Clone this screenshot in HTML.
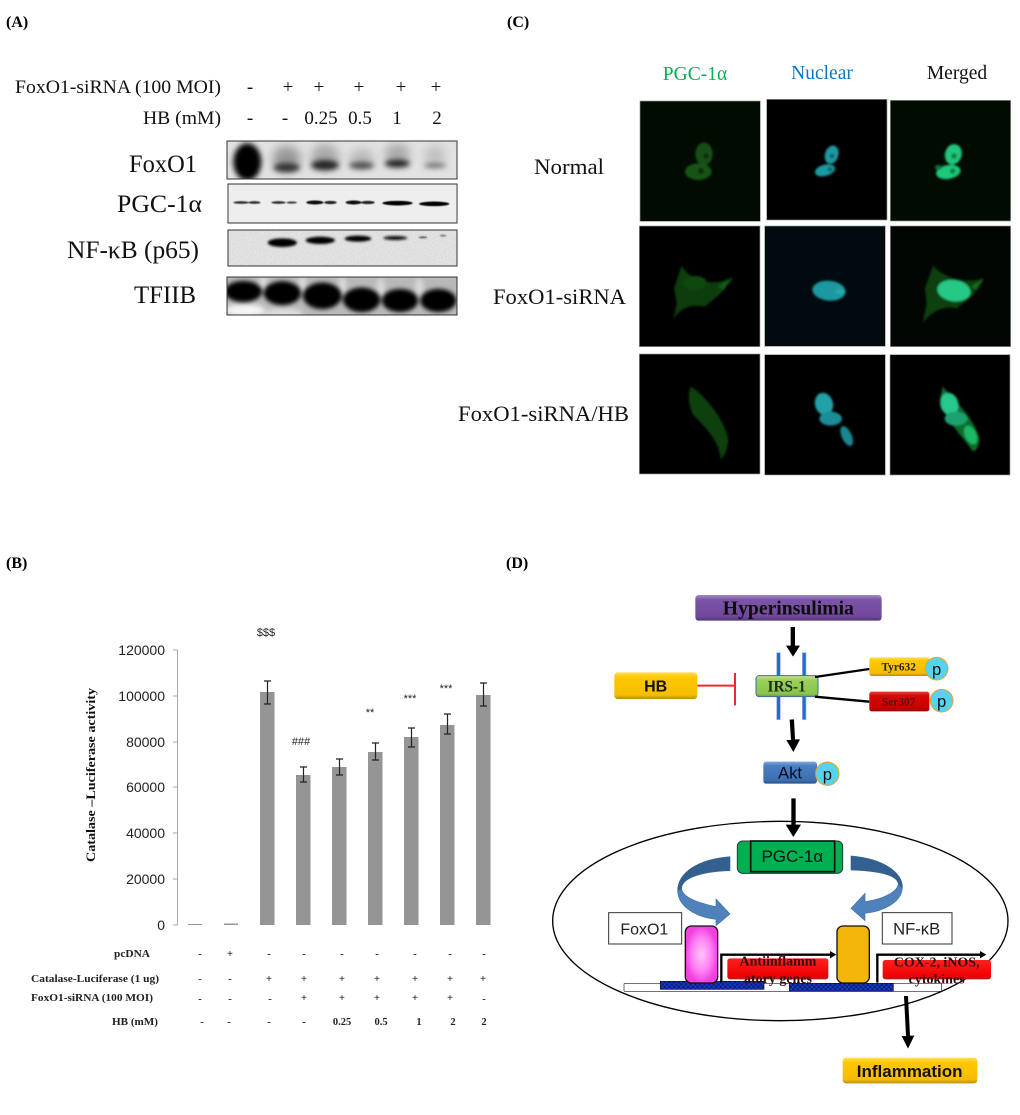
<!DOCTYPE html>
<html><head><meta charset="utf-8"><style>
html,body{margin:0;padding:0;background:#fff}
svg{display:block}
.s{font-family:"Liberation Serif",serif}
.a{font-family:"Liberation Sans",sans-serif}
.b{font-weight:bold}
</style></head><body>
<svg width="1020" height="1115" viewBox="0 0 1020 1115" xmlns="http://www.w3.org/2000/svg">
<defs>
<filter id="b2" x="-50%" y="-100%" width="200%" height="300%"><feGaussianBlur stdDeviation="2"/></filter>
<filter id="b3" x="-50%" y="-50%" width="200%" height="200%"><feGaussianBlur stdDeviation="3"/></filter>
<filter id="b4" x="-50%" y="-100%" width="200%" height="300%"><feGaussianBlur stdDeviation="4"/></filter>
<filter id="b6" x="-50%" y="-100%" width="200%" height="300%"><feGaussianBlur stdDeviation="6"/></filter>
<filter id="b8" x="-50%" y="-100%" width="200%" height="300%"><feGaussianBlur stdDeviation="8"/></filter>
<filter id="b14" x="-50%" y="-100%" width="200%" height="300%"><feGaussianBlur stdDeviation="14"/></filter>
<filter id="noise" x="0" y="0" width="100%" height="100%"><feTurbulence type="fractalNoise" baseFrequency="0.5" numOctaves="2" seed="4"/><feColorMatrix values="0 0 0 0 0.3 0 0 0 0 0.3 0 0 0 0 0.3 1.4 0 0 0 -0.45"/></filter>
<linearGradient id="gy" x1="0" y1="0" x2="0" y2="1"><stop offset="0" stop-color="#ffdf5a"/><stop offset=".18" stop-color="#ffc800"/><stop offset=".85" stop-color="#f5bd00"/><stop offset="1" stop-color="#b98c10"/></linearGradient>
<linearGradient id="gr" x1="0" y1="0" x2="0" y2="1"><stop offset="0" stop-color="#e84040"/><stop offset=".2" stop-color="#d80808"/><stop offset=".85" stop-color="#c80000"/><stop offset="1" stop-color="#8a1010"/></linearGradient>
<linearGradient id="gr2" x1="0" y1="0" x2="0" y2="1"><stop offset="0" stop-color="#ff2020"/><stop offset=".85" stop-color="#f00000"/><stop offset="1" stop-color="#b02020"/></linearGradient>
<linearGradient id="gp" x1="0" y1="0" x2="0" y2="1"><stop offset="0" stop-color="#a58ac6"/><stop offset=".18" stop-color="#7b55a8"/><stop offset=".85" stop-color="#70489c"/><stop offset="1" stop-color="#4e3570"/></linearGradient>
<linearGradient id="gb" x1="0" y1="0" x2="0" y2="1"><stop offset="0" stop-color="#7eaadb"/><stop offset=".18" stop-color="#4a80c4"/><stop offset=".85" stop-color="#3d6fb0"/><stop offset="1" stop-color="#2a4f80"/></linearGradient>
<linearGradient id="gg" x1="0" y1="0" x2="0" y2="1"><stop offset="0" stop-color="#c5e59a"/><stop offset=".2" stop-color="#9ad05c"/><stop offset=".85" stop-color="#8cc44e"/><stop offset="1" stop-color="#6f9a40"/></linearGradient>
<radialGradient id="pink"><stop offset="0" stop-color="#ffc4fa"/><stop offset=".6" stop-color="#ff80f4"/><stop offset="1" stop-color="#f040e0"/></radialGradient>
<pattern id="dots" width="14" height="14" patternUnits="userSpaceOnUse"><rect width="14" height="14" fill="#1438c8"/><rect width="7" height="7" fill="#0c1f78"/><rect x="7" y="7" width="7" height="7" fill="#0c1f78"/></pattern>
</defs>
<rect width="1020" height="1115" fill="#fff"/>

<!-- panel letters -->
<g class="s b" font-size="16" fill="#000">
<text x="6" y="27">(A)</text><text x="507" y="27">(C)</text>
<text x="6" y="568">(B)</text><text x="506" y="568">(D)</text>
</g>

<!-- A -->
<g class="s" fill="#111" font-size="19">
<text x="15" y="93" textLength="206" lengthAdjust="spacingAndGlyphs">FoxO1-siRNA (100 MOI)</text>
<text x="143" y="124" textLength="78" lengthAdjust="spacingAndGlyphs">HB (mM)</text>
<g text-anchor="middle">
<text x="250" y="93">-</text><text x="288" y="93">+</text><text x="319" y="93">+</text><text x="359" y="93">+</text><text x="401" y="93">+</text><text x="436" y="93">+</text>
<text x="250" y="124">-</text><text x="285" y="124">-</text><text x="321" y="124">0.25</text><text x="360" y="124">0.5</text><text x="397" y="124">1</text><text x="437" y="124">2</text>
</g>
</g>
<g class="s" fill="#111" font-size="25">
<text x="129" y="172" textLength="68" lengthAdjust="spacingAndGlyphs">FoxO1</text>
<text x="117" y="212" textLength="85" lengthAdjust="spacingAndGlyphs">PGC-1α</text>
<text x="67" y="258" textLength="132" lengthAdjust="spacingAndGlyphs">NF-κB (p65)</text>
<text x="134" y="303" textLength="62" lengthAdjust="spacingAndGlyphs">TFIIB</text>
</g>
<svg x="227" y="141" width="230" height="38" viewBox="681 243 690 113"><rect x="681" y="243" width="690" height="113" fill="#e2e2e2"/>
<g filter="url(#b14)"><ellipse cx="860" cy="295" rx="42" ry="38" fill="#999"/><ellipse cx="975" cy="290" rx="42" ry="38" fill="#a8a8a8"/><ellipse cx="1192" cy="280" rx="38" ry="30" fill="#aaa"/><ellipse cx="1305" cy="285" rx="32" ry="28" fill="#c0c0c0"/><ellipse cx="1085" cy="295" rx="36" ry="28" fill="#b8b8b8"/></g>
<g filter="url(#b8)"><ellipse cx="742" cy="305" rx="42" ry="56" fill="#000"/><ellipse cx="860" cy="322" rx="40" ry="14" fill="#333"/><ellipse cx="975" cy="315" rx="42" ry="15" fill="#222"/><ellipse cx="1085" cy="316" rx="38" ry="10" fill="#444"/><ellipse cx="1192" cy="310" rx="38" ry="12" fill="#222"/><ellipse cx="1305" cy="316" rx="34" ry="7" fill="#666"/></g></svg>
<svg x="228" y="184" width="229" height="39" viewBox="685 372 687 118"><rect x="685" y="372" width="687" height="118" fill="#eee"/>
<g filter="url(#b2)"><ellipse cx="722" cy="428" rx="24" ry="4" fill="#333"/><ellipse cx="762" cy="428" rx="19" ry="4" fill="#333"/><ellipse cx="835" cy="428" rx="22" ry="4" fill="#333"/><ellipse cx="875" cy="428" rx="16" ry="3.5" fill="#444"/><ellipse cx="945" cy="428" rx="26" ry="6" fill="#111"/><ellipse cx="992" cy="428" rx="19" ry="5" fill="#222"/><ellipse cx="1062" cy="428" rx="24" ry="6" fill="#111"/><ellipse cx="1105" cy="428" rx="21" ry="5" fill="#222"/><ellipse cx="1195" cy="430" rx="46" ry="7" fill="#000"/><ellipse cx="1306" cy="432" rx="46" ry="7" fill="#000"/></g></svg>
<svg x="228" y="230" width="229" height="36" viewBox="685 510 687 108"><rect x="685" y="510" width="687" height="108" fill="#ececec"/><rect x="685" y="510" width="687" height="108" filter="url(#noise)" opacity=".55"/>
<g filter="url(#b4)"><ellipse cx="848" cy="548" rx="44" ry="13" fill="#000"/><ellipse cx="962" cy="541" rx="44" ry="11" fill="#000"/><ellipse cx="1075" cy="536" rx="40" ry="9" fill="#000"/><ellipse cx="1187" cy="534" rx="36" ry="6" fill="#111"/></g><g filter="url(#b2)"><ellipse cx="1270" cy="532" rx="13" ry="3" fill="#555"/><ellipse cx="1330" cy="527" rx="10" ry="3" fill="#777"/></g></svg>
<svg x="227" y="277" width="230" height="38" viewBox="681 652 690 113"><rect x="681" y="652" width="690" height="113" fill="#b8b8b8"/>
<g filter="url(#b8)"><ellipse cx="735" cy="752" rx="60" ry="20" fill="#f4f4f4"/><ellipse cx="850" cy="762" rx="60" ry="18" fill="#ddd"/><ellipse cx="1090" cy="770" rx="170" ry="8" fill="#bbb"/><ellipse cx="790" cy="670" rx="12" ry="30" fill="#ddd"/><ellipse cx="907" cy="675" rx="12" ry="30" fill="#ddd"/><ellipse cx="1027" cy="680" rx="12" ry="30" fill="#ddd"/><ellipse cx="1142" cy="685" rx="12" ry="30" fill="#ddd"/><ellipse cx="1258" cy="685" rx="12" ry="30" fill="#ddd"/></g>
<g filter="url(#b6)" fill="#000"><ellipse cx="730" cy="695" rx="56" ry="32"/><ellipse cx="847" cy="700" rx="56" ry="36"/><ellipse cx="967" cy="708" rx="58" ry="40"/><ellipse cx="1085" cy="720" rx="56" ry="37"/><ellipse cx="1200" cy="722" rx="54" ry="35"/><ellipse cx="1315" cy="722" rx="54" ry="35"/></g></svg>
<g fill="none" stroke="#333" stroke-width="1">
<rect x="227" y="141" width="230" height="38"/><rect x="228" y="184" width="229" height="39"/><rect x="228" y="230" width="229" height="36"/><rect x="227" y="277" width="230" height="38"/>
</g>

<!-- C labels -->
<g class="s" font-size="19.5" text-anchor="middle">
<text x="695" y="80" fill="#00b050">PGC-1α</text>
<text x="822" y="79" fill="#0a78c0">Nuclear</text>
<text x="957" y="79" fill="#111">Merged</text>
</g>
<g class="s" fill="#111" font-size="22">
<text x="534" y="174" textLength="70" lengthAdjust="spacingAndGlyphs">Normal</text>
<text x="493" y="304" textLength="133" lengthAdjust="spacingAndGlyphs">FoxO1-siRNA</text>
<text x="458" y="421" textLength="171" lengthAdjust="spacingAndGlyphs">FoxO1-siRNA/HB</text>
</g>

<!-- C micrographs (zoom coords) -->
<g transform="translate(630,90) scale(.33333)">
<g stroke="#999" stroke-width="2">
<rect x="30" y="33" width="361" height="361" fill="#020b02"/>
<rect x="410" y="28" width="361" height="362" fill="#000"/>
<rect x="781" y="31" width="361" height="362" fill="#020b02"/>
<rect x="28" y="408" width="362" height="362" fill="#000"/>
<rect x="404" y="408" width="362" height="361" fill="#010a0e"/>
<rect x="781" y="408" width="361" height="362" fill="#010603"/>
<rect x="28" y="792" width="362" height="360" fill="#000"/>
<rect x="404" y="794" width="362" height="361" fill="#000"/>
<rect x="780" y="794" width="360" height="361" fill="#000"/>
</g>
<g filter="url(#b3)">
<!-- row 1 -->
<ellipse cx="222" cy="192" rx="26" ry="34" fill="#145014"/><ellipse cx="205" cy="245" rx="40" ry="25" fill="#155515"/><circle cx="228" cy="198" r="8" fill="#0a2c0a"/><circle cx="213" cy="243" r="9" fill="#0a2c0a"/>
<ellipse cx="605" cy="194" rx="20" ry="28" transform="rotate(18 605 194)" fill="#1f9aa2"/><ellipse cx="585" cy="241" rx="31" ry="17" transform="rotate(-15 585 241)" fill="#1f9aa2"/><circle cx="606" cy="198" r="7" fill="#0e5f66"/><circle cx="600" cy="238" r="7" fill="#0e5f66"/>
<ellipse cx="970" cy="193" rx="25" ry="31" transform="rotate(15 970 193)" fill="#24c47c"/><ellipse cx="955" cy="246" rx="37" ry="21" transform="rotate(-10 955 246)" fill="#1fc878"/><circle cx="972" cy="198" r="8" fill="#0f7a48"/><circle cx="968" cy="243" r="8" fill="#0f7a48"/><ellipse cx="925" cy="232" rx="11" ry="7" fill="#146a3a"/>
<!-- row 2 -->
<path d="M155,525C165,555 220,585 270,575L312,562L270,612L225,650C190,642 150,650 130,690L140,640L132,595Z" fill="#0c3c0c"/><path d="M262,590L305,563L282,600Z" fill="#145a14"/><ellipse cx="195" cy="578" rx="35" ry="20" fill="#0f480f"/>
<ellipse cx="597" cy="602" rx="50" ry="30" transform="rotate(5 597 602)" fill="#1f98a0"/><ellipse cx="630" cy="605" rx="14" ry="8" fill="#2aa8b0"/>
<path d="M910,525C925,555 1000,585 1060,565L1030,615L980,655C945,645 900,665 878,700L890,640L885,595Z" fill="#0d400f"/><ellipse cx="972" cy="602" rx="50" ry="32" transform="rotate(8 972 602)" fill="#28c884"/><path d="M1022,590L1062,565L1040,600Z" fill="#156a1a"/>
<!-- row 3 -->
<path d="M182,890C225,915 285,990 295,1050C292,1080 285,1095 272,1110C270,1060 235,1020 190,975C175,945 172,915 182,890Z" fill="#0c400e"/>
<ellipse cx="582" cy="942" rx="27" ry="34" transform="rotate(-15 582 942)" fill="#22a0a8"/><ellipse cx="602" cy="986" rx="34" ry="21" fill="#1c8c96"/><ellipse cx="650" cy="1038" rx="15" ry="32" transform="rotate(-25 650 1038)" fill="#1c8690"/>
<path d="M938,890C975,930 1035,990 1048,1045C1046,1075 1035,1090 1025,1080C1000,1040 950,1000 930,930Z" fill="#0f6a2a"/>
<ellipse cx="958" cy="942" rx="27" ry="34" transform="rotate(-15 958 942)" fill="#28c88c"/><ellipse cx="978" cy="986" rx="34" ry="21" fill="#1fa070"/><ellipse cx="1022" cy="1035" rx="17" ry="30" transform="rotate(-25 1022 1035)" fill="#1ab866"/>
</g>
</g>

<!-- B chart -->
<g stroke="#aaa" stroke-width="1" fill="none">
<path d="M177.5,650 V925 M173,650H177.5 M173,696H177.5 M173,742H177.5 M173,787H177.5 M173,833H177.5 M173,879H177.5 M173,925H177.5"/>
</g>
<g class="a" font-size="14" fill="#222" text-anchor="end">
<text x="165" y="655">120000</text><text x="165" y="701">100000</text><text x="165" y="747">80000</text><text x="165" y="792">60000</text><text x="165" y="838">40000</text><text x="165" y="884">20000</text><text x="165" y="930">0</text>
</g>
<text class="s b" transform="translate(95,775) rotate(-90)" text-anchor="middle" font-size="13" fill="#111" textLength="174" lengthAdjust="spacingAndGlyphs">Catalase –Luciferase activity</text>
<g fill="#959595">
<rect x="188" y="924" width="14" height="1"/><rect x="224" y="923.5" width="14" height="1.5"/>
<rect x="260" y="692" width="14.5" height="233"/><rect x="296" y="775" width="14.5" height="150"/><rect x="332" y="767" width="14.5" height="158"/><rect x="368" y="752" width="14.5" height="173"/><rect x="404" y="737" width="14.5" height="188"/><rect x="440" y="725" width="14.5" height="200"/><rect x="476" y="695" width="14.5" height="230"/>
</g>
<g stroke="#222" stroke-width="1.2" fill="none">
<path d="M267.5,681V704M264,681h7M264,704h7"/><path d="M303.5,767V782M300,767h7M300,782h7"/><path d="M339.5,759V775M336,759h7M336,775h7"/><path d="M375.5,743V760M372,743h7M372,760h7"/><path d="M411.5,728V747M408,728h7M408,747h7"/><path d="M447.5,714V734M444,714h7M444,734h7"/><path d="M483.5,683V706M480,683h7M480,706h7"/>
</g>
<g class="a" font-size="11" fill="#222" text-anchor="middle">
<text x="266" y="636">$$$</text><text x="301" y="745">###</text><text x="370" y="716">**</text><text x="410" y="702">***</text><text x="446" y="692">***</text>
</g>
<g class="s b" font-size="10.5" fill="#222">
<text x="114" y="957" textLength="36" lengthAdjust="spacingAndGlyphs">pcDNA</text>
<text x="31" y="982" textLength="128" lengthAdjust="spacingAndGlyphs">Catalase-Luciferase (1 ug)</text>
<text x="31" y="1001" textLength="122" lengthAdjust="spacingAndGlyphs">FoxO1-siRNA (100 MOI)</text>
<text x="112" y="1025" textLength="46" lengthAdjust="spacingAndGlyphs">HB (mM)</text>
<g text-anchor="middle">
<text x="200" y="957">-</text><text x="230" y="957">+</text><text x="269" y="957">-</text><text x="304" y="957">-</text><text x="342" y="957">-</text><text x="377" y="957">-</text><text x="415" y="957">-</text><text x="450" y="957">-</text><text x="484" y="957">-</text>
<text x="200" y="982">-</text><text x="230" y="982">-</text><text x="269" y="982">+</text><text x="304" y="982">+</text><text x="342" y="982">+</text><text x="377" y="982">+</text><text x="415" y="982">+</text><text x="450" y="982">+</text><text x="483" y="982">+</text>
<text x="200" y="1002">-</text><text x="230" y="1002">-</text><text x="270" y="1002">-</text><text x="304" y="1001">+</text><text x="342" y="1001">+</text><text x="377" y="1001">+</text><text x="415" y="1001">+</text><text x="450" y="1001">+</text><text x="484" y="1002">-</text>
<text x="202" y="1025">-</text><text x="229" y="1025">-</text><text x="269" y="1025">-</text><text x="304" y="1025">-</text><text x="342" y="1025">0.25</text><text x="381" y="1025">0.5</text><text x="419" y="1025">1</text><text x="453" y="1025">2</text><text x="484" y="1025">2</text>
</g>
</g>

<!-- D upper (zoom coords) -->
<g transform="translate(600,580) scale(.33333)">
<rect x="286" y="45" width="559" height="77" rx="10" fill="url(#gp)"/>
<text class="s b" x="565" y="103" font-size="59" text-anchor="middle" fill="#0d0d0d">Hyperinsulimia</text>
<path d="M572,141h13v56h15l-21,33l-21,-33h14z" fill="#000"/>
<g fill="#1f6fd0" stroke="#9fb4e8" stroke-width="2"><rect x="530" y="218" width="11" height="72"/><rect x="607" y="218" width="11" height="72"/><rect x="530" y="345" width="11" height="74"/><rect x="607" y="345" width="11" height="74"/></g>
<rect x="468" y="287" width="186" height="63" rx="9" fill="url(#gg)" stroke="#3a70a8" stroke-width="3"/>
<text class="s b" x="560" y="335" font-size="46" text-anchor="middle" fill="#1d2d10">IRS-1</text>
<rect x="43" y="277" width="249" height="80" rx="10" fill="url(#gy)"/>
<text class="a b" x="167" y="335" font-size="48" text-anchor="middle" fill="#111">HB</text>
<path d="M292,317H405M405,279V376" stroke="#f0282c" stroke-width="6" fill="none"/>
<path d="M645,291L808,267M645,350L808,365" stroke="#000" stroke-width="7" fill="none"/>
<rect x="808" y="232" width="180" height="56" rx="7" fill="url(#gy)"/>
<text class="s b" x="896" y="271" font-size="34" text-anchor="middle" fill="#222">Tyr632</text>
<circle cx="1010" cy="266" r="34" fill="#55d4f0" stroke="#f0a020" stroke-width="3"/>
<text class="a" x="1010" y="285" font-size="50" text-anchor="middle" fill="#111">p</text>
<rect x="808" y="335" width="180" height="59" rx="7" fill="url(#gr)"/>
<text class="s b" x="896" y="376" font-size="34" text-anchor="middle" fill="#5a1010">Ser307</text>
<circle cx="1025" cy="362" r="34" fill="#55d4f0" stroke="#f0a020" stroke-width="3"/>
<text class="a" x="1025" y="381" font-size="50" text-anchor="middle" fill="#111">p</text>
<path d="M569,419l13,-1l3,60h15l-20,38l-21,-36h14z" fill="#000"/>
<rect x="490" y="545" width="161" height="66" rx="8" fill="url(#gb)"/>
<text class="a" x="570" y="596" font-size="50" text-anchor="middle" fill="#0a0a20">Akt</text>
<circle cx="682" cy="581" r="35" fill="#55d4f0" stroke="#f0a020" stroke-width="3"/>
<text class="a" x="682" y="600" font-size="50" text-anchor="middle" fill="#111">p</text>
</g>

<!-- D lower (zoom coords) -->
<g transform="translate(540,820) scale(.33333)">
<ellipse cx="721" cy="303" rx="683" ry="299" fill="none" stroke="#000" stroke-width="4"/>
<path d="M754,-65h13V14h16l-23,37l-23,-37h17z" fill="#000"/>
<rect x="592" y="63" width="316" height="97" rx="16" fill="#00b050" stroke="#333" stroke-width="3"/>
<rect x="632" y="63" width="252" height="92" fill="#00b050" stroke="#111" stroke-width="5"/>
<text class="a" x="757" y="126" font-size="51" text-anchor="middle" fill="#111">PGC-1α</text>
<path d="M570,110C470,118 412,160 413,215C417,262 470,292 528,298L528,317L570,282L528,237L528,260C480,250 430,235 425,208C422,180 470,155 570,152Z" fill="#4f81bd" stroke="#3f72a8" stroke-width="2"/>
<path d="M570,110C470,118 412,160 413,212L425,208C422,180 470,155 570,152Z" fill="#34608f"/>
<path d="M933,108C1033,116 1090,160 1087,205C1083,248 1030,274 975,280L975,302L933,265L975,220L975,245C1030,238 1072,215 1075,192C1072,170 1033,153 933,150Z" fill="#4f81bd" stroke="#3f72a8" stroke-width="2"/>
<path d="M933,108C1033,116 1090,160 1087,205L1075,192C1072,170 1033,153 933,150Z" fill="#34608f"/>
<rect x="206" y="278" width="219" height="94" fill="#fff" stroke="#333" stroke-width="3"/>
<text class="a" x="313" y="343" font-size="48" text-anchor="middle" fill="#222">FoxO1</text>
<rect x="1027" y="278" width="209" height="94" fill="#fff" stroke="#333" stroke-width="3"/>
<text class="a" x="1130" y="343" font-size="50" text-anchor="middle" fill="#222">NF-κB</text>
<rect x="252" y="490" width="953" height="24" rx="3" fill="#fff" stroke="#222" stroke-width="2"/>
<rect x="361" y="484" width="311" height="24" fill="url(#dots)" stroke="#111" stroke-width="2"/>
<rect x="748" y="490" width="312" height="24" fill="url(#dots)" stroke="#111" stroke-width="2"/>
<rect x="562" y="415" width="303" height="63" rx="8" fill="url(#gr2)"/>
<rect x="1028" y="420" width="325" height="58" rx="8" fill="url(#gr2)"/>
<path d="M544,488V404H875M1012,488V404H1325" fill="none" stroke="#000" stroke-width="7"/>
<path d="M870,393l19,11l-19,11zM1320,393l19,11l-19,11z" fill="#000"/>
<rect x="436" y="318" width="97" height="171" rx="18" fill="url(#pink)" stroke="#111" stroke-width="4"/>
<rect x="891" y="318" width="97" height="171" rx="18" fill="#f5b60c" stroke="#111" stroke-width="4"/>
<g class="s b" font-size="42" text-anchor="middle" fill="#2a1010">
<text x="714" y="437">Antiinflamm</text><text x="714" y="489">atory genes</text>
<text x="1190" y="440">COX-2, iNOS,</text><text x="1190" y="491">cytokines</text>
</g>
<path d="M1092,528h12l6,119h13l-19,39l-19,-38h13z" fill="#000"/>
<rect x="908" y="713" width="404" height="77" rx="10" fill="url(#gy)"/>
<text class="a b" x="1109" y="771" font-size="51" text-anchor="middle" fill="#111">Inflammation</text>
</g>
</svg>
</body></html>
